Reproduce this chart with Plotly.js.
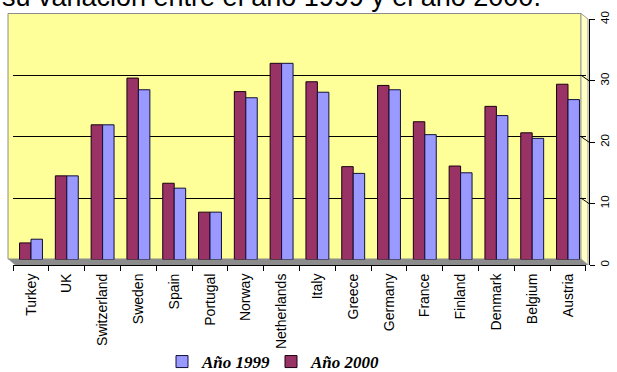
<!DOCTYPE html>
<html>
<head>
<meta charset="utf-8">
<script src="https://cdn.plot.ly/plotly-3.0.1.min.js"></script>
<style>
  html, body { margin: 0; padding: 0; background: #ffffff; overflow: hidden; }
  #chart { width: 617px; height: 372px; }
</style>
</head>
<body>
<div id="chart"></div>
<script>
// Countries, in the order they run along the category axis
const countries = ['Turkey', 'UK', 'Switzerland', 'Sweden', 'Spain', 'Portugal', 'Norway',
  'Netherlands', 'Italy', 'Greece', 'Germany', 'France', 'Finland', 'Denmark', 'Belgium', 'Austria'];

// Values per country for each year
const values2000 = [2.7, 13.6, 21.9, 29.5, 12.4, 7.7, 27.3, 31.9, 28.9, 15.1, 28.3, 22.4, 15.2, 24.9, 20.6, 28.5];
const values1999 = [3.3, 13.6, 21.9, 27.6, 11.6, 7.7, 26.3, 31.9, 27.2, 14.0, 27.6, 20.3, 14.1, 23.4, 19.7, 26.0];

// Value axis ticks
const valueTicks = [0, 10, 20, 30, 40];
const gridTicks = [10, 20, 30];

const titleText = 'su variación entre el año 1999 y el año 2000.';
const name1999 = 'Año 1999';
const name2000 = 'Año 2000';

// Page geometry helpers (pixels -> paper fractions, margins are zero)
const W = 617, H = 372;
const fx = px => px / W;
const fy = py => 1 - py / H;

const traces = [
  {
    type: 'bar', name: name2000, x: countries, y: values2000,
    marker: { color: '#993366', line: { color: '#1a0010', width: 1 } },
    hoverinfo: 'skip'
  },
  {
    type: 'bar', name: name1999, x: countries, y: values1999,
    marker: { color: '#9999FF', line: { color: '#10103a', width: 1 } },
    hoverinfo: 'skip'
  },
  // carries the right-hand value axis
  {
    type: 'scatter', mode: 'none', x: [countries[0]], y: [0],
    xaxis: 'x', yaxis: 'y2', showlegend: false, hoverinfo: 'skip'
  }
];

// Wall, side wall and floor of the box, plus the short joins from the
// back-wall grid lines to the ticks of the value axis
const shapes = [
  {
    type: 'rect', xref: 'paper', yref: 'paper', layer: 'below',
    x0: fx(8), x1: fx(581), y0: fy(259), y1: fy(13.5),
    fillcolor: '#FFFF99', line: { color: '#8c8c8c', width: 1 }
  },
  {
    type: 'path', xref: 'paper', yref: 'paper', layer: 'below',
    path: `M ${fx(581)},${fy(13.5)} L ${fx(588)},${fy(19)} L ${fx(588)},${fy(265)} L ${fx(581)},${fy(259)} Z`,
    fillcolor: '#FFFFC4', line: { color: '#9a9a9a', width: 1 }
  },
  {
    type: 'path', xref: 'paper', yref: 'paper', layer: 'between',
    path: `M ${fx(8)},${fy(259)} L ${fx(581)},${fy(259)} L ${fx(588)},${fy(265)} L ${fx(15)},${fy(265)} Z`,
    fillcolor: '#8c8c8c', line: { width: 0 }
  }
];
gridTicks.forEach(v => {
  shapes.push({
    type: 'line', xref: 'paper', yref: 'y2', layer: 'below',
    x0: fx(581), x1: fx(589), y0: v + 0.9, y1: v,
    line: { color: '#000', width: 1 }
  });
});

const layout = {
  width: W, height: H,
  margin: { l: 0, r: 0, t: 0, b: 0, autoexpand: false },
  paper_bgcolor: '#ffffff',
  plot_bgcolor: 'rgba(0,0,0,0)',
  barmode: 'group',
  bargap: 0.36,
  bargroupgap: 0,
  showlegend: true,
  xaxis: {
    type: 'category',
    domain: [fx(13.1), fx(585.9)],
    range: [-0.5, countries.length - 0.5],
    anchor: 'free', position: fy(265),
    showline: true, linecolor: '#000', linewidth: 1,
    ticks: 'outside', ticklen: 5, tickcolor: '#000', tickson: 'boundaries',
    tickangle: -90, ticklabelstandoff: 2,
    tickfont: { family: 'Liberation Sans, Arial, sans-serif', size: 14, color: '#000' },
    showgrid: false, zeroline: false, fixedrange: true
  },
  yaxis: {
    domain: [fy(259.5), fy(13.5)],
    range: [0, 40],
    tickmode: 'array', tickvals: gridTicks,
    showticklabels: false, ticks: '',
    showgrid: true, gridcolor: '#000', gridwidth: 1,
    zeroline: false, showline: false, fixedrange: true
  },
  yaxis2: {
    domain: [fy(265), fy(19.3)],
    range: [0, 40],
    anchor: 'free', position: fx(589), side: 'right',
    tickmode: 'array', tickvals: valueTicks,
    showline: true, linecolor: '#000', linewidth: 1,
    ticks: 'outside', ticklen: 5, tickcolor: '#000',
    tickangle: -90,
    tickfont: { family: 'Liberation Sans, Arial, sans-serif', size: 11.5, color: '#000' },
    showgrid: false, zeroline: false, fixedrange: true
  },
  legend: {
    orientation: 'h', traceorder: 'reversed',
    x: fx(162), y: fy(344), xanchor: 'left', yanchor: 'top',
    entrywidth: 64, entrywidthmode: 'pixels',
    bgcolor: 'rgba(0,0,0,0)', borderwidth: 0,
    font: { family: 'Liberation Serif, Times New Roman, serif', size: 17, weight: 'bold', style: 'italic', color: '#000' }
  },
  annotations: [
    {
      text: titleText, showarrow: false,
      xref: 'paper', yref: 'paper', x: 0, y: fy(-3),
      xanchor: 'left', yanchor: 'middle',
      font: { family: 'Liberation Sans, Arial, sans-serif', size: 27, color: '#000' }
    }
  ],
  shapes: shapes
};

Plotly.newPlot('chart', traces, layout, { staticPlot: true, displayModeBar: false });
</script>
</body>
</html>
